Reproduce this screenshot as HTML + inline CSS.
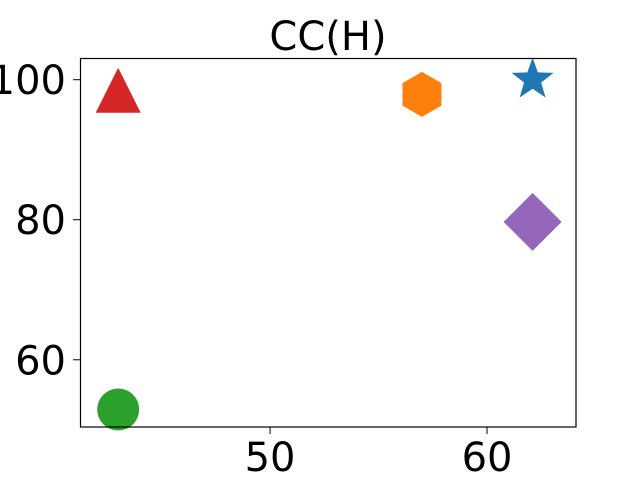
<!DOCTYPE html>
<html><head><meta charset="utf-8"><style>body{margin:0;background:#fff}svg{display:block}text{font-family:"DejaVu Sans","Liberation Sans",sans-serif}</style></head>
<body>
<svg id="chart" width="640" height="480">
<rect x="0" y="0" width="640" height="480" fill="#fff"/>
<text x="328" y="50" font-size="40" text-anchor="middle">CC(H)</text>
<g id="marks"></g>
<rect x="80.5" y="58.5" width="495.5" height="368.5" fill="none" stroke="#000" stroke-width="1.2"/>
<g id="axes"></g>
</svg>
<script>
const categories = ["star","hexagon","triangle","diamond","circle"];
const xValues = [62.1, 57, 43, 62.1, 43];
const yValues = [100, 97.9, 98.5, 79.7, 52.9];
const colors = ["#1f77b4","#ff7f0e","#d62728","#9467bd","#2ca02c"];
const xTicks = [50, 60];
const yTicks = [60, 80, 100];

const X0=80, X1=576, Y0=58, Y1=427;
const xMin=41.24, xMax=64.1, yMin=50.4, yMax=103.1;
const sx = v => X0 + (v-xMin)/(xMax-xMin)*(X1-X0);
const sy = v => Y1 - (v-yMin)/(yMax-yMin)*(Y1-Y0);
const NS="http://www.w3.org/2000/svg";
const marks=document.getElementById('marks'), axes=document.getElementById('axes');

function shape(kind,cx,cy,c){
  let el;
  const poly = pts => { el=document.createElementNS(NS,'polygon'); el.setAttribute('points',pts.map(p=>(cx+p[0])+','+(cy+p[1])).join(' ')); };
  if(kind==='circle'){ el=document.createElementNS(NS,'circle'); el.setAttribute('cx',cx); el.setAttribute('cy',cy); el.setAttribute('r',21); }
  else if(kind==='triangle'){ poly([[0,-22.5],[-22.5,22.5],[22.5,22.5]]); }
  else if(kind==='diamond'){ poly([[0,-29],[29,0],[0,29],[-29,0]]); }
  else if(kind==='hexagon'){ const p=[]; for(let i=0;i<6;i++){const a=-Math.PI/2+i*Math.PI/3;p.push([22.5*Math.cos(a),22.5*Math.sin(a)]);} poly(p); }
  else { const p=[]; for(let i=0;i<10;i++){const a=-Math.PI/2+i*Math.PI/5;const r=i%2?9:22;p.push([r*Math.cos(a),r*Math.sin(a)]);} poly(p); }
  el.setAttribute('fill',c);
  return el;
}
categories.forEach((k,i)=>{
  const el=shape(k,sx(xValues[i]),sy(yValues[i]),colors[i]);
  
  
  marks.appendChild(el);
});
xTicks.forEach(t=>{
  const x=sx(t);
  const l=document.createElementNS(NS,'line');
  l.setAttribute('x1',x);l.setAttribute('x2',x);l.setAttribute('y1',427);l.setAttribute('y2',434);l.setAttribute('stroke','#000');
  
  
  axes.appendChild(l);
  const tx=document.createElementNS(NS,'text');
  tx.setAttribute('x',x);tx.setAttribute('y',471);tx.setAttribute('font-size','40');tx.setAttribute('text-anchor','middle');
  tx.textContent=t;
  
  
  axes.appendChild(tx);
});
yTicks.forEach(t=>{
  const y=sy(t);
  const l=document.createElementNS(NS,'line');
  l.setAttribute('x1',73);l.setAttribute('x2',80);l.setAttribute('y1',y);l.setAttribute('y2',y);l.setAttribute('stroke','#000');
  
  
  axes.appendChild(l);
  const tx=document.createElementNS(NS,'text');
  tx.setAttribute('x',66);tx.setAttribute('y',y+14.5);tx.setAttribute('font-size','40');tx.setAttribute('text-anchor','end');
  tx.textContent=t;
  
  
  axes.appendChild(tx);
});
</script>
</body></html>
